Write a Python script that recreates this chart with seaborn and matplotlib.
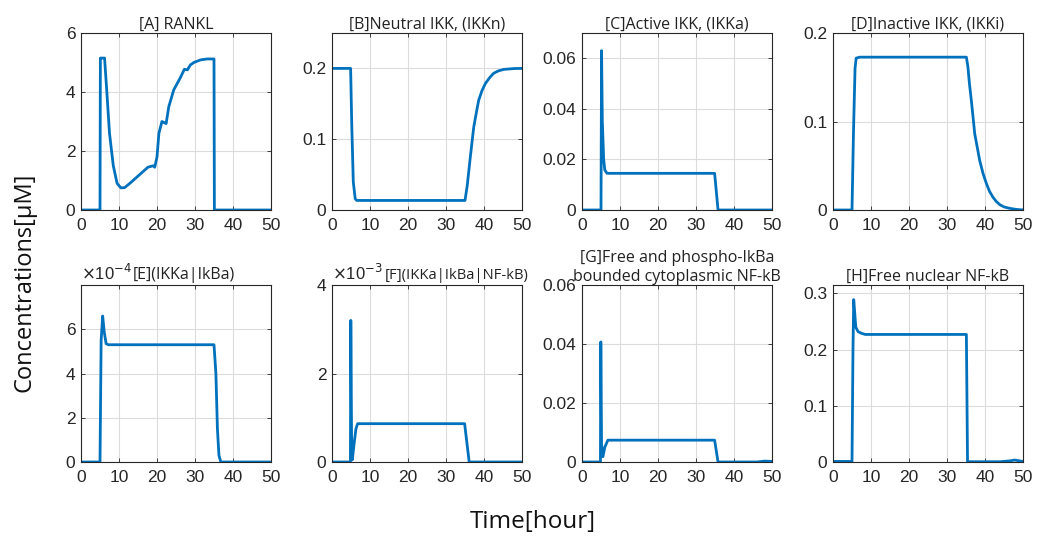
import numpy as np
import pandas as pd
import matplotlib
matplotlib.use("Agg")
import matplotlib.pyplot as plt
import seaborn as sns
from matplotlib.ticker import FuncFormatter

# ---------------- data ----------------
t_A = [0, 5.0, 5.1, 5.3, 6.2, 6.8, 7.5, 8.5, 9.5, 10.5, 11.5, 13, 15, 17, 17.6, 19, 19.4, 20, 20.5, 21.3, 22.4, 23.1, 24.4, 26.2, 27.2, 28, 28.8, 29.7, 31.5, 33.2, 35.0, 35.1, 50]
y_A = [0, 0, 5.15, 5.15, 5.15, 4.0, 2.6, 1.5, 0.9, 0.75, 0.76, 0.92, 1.15, 1.38, 1.45, 1.5, 1.45, 1.8, 2.6, 3.0, 2.93, 3.5, 4.07, 4.5, 4.77, 4.75, 4.92, 5.0, 5.09, 5.12, 5.12, 0, 0]

t_B = [0, 4.9, 5.2, 5.6, 6.1, 6.5, 35.0, 35.6, 36.4, 37.3, 38.0, 38.6, 39.5, 40.4, 41.5, 42.5, 43.8, 45.2, 48, 50]
y_B = [0.2, 0.2, 0.12, 0.04, 0.016, 0.0135, 0.0135, 0.035, 0.075, 0.117, 0.138, 0.155, 0.169, 0.179, 0.187, 0.193, 0.1965, 0.1986, 0.1998, 0.2]

t_C = [0, 5.0, 5.15, 5.35, 5.7, 6.0, 6.6, 34.9, 35.8, 50]
y_C = [0, 0, 0.063, 0.035, 0.02, 0.0158, 0.0145, 0.0145, 0, 0]

t_D = [0, 5.0, 5.4, 5.8, 6.1, 7.0, 35.1, 35.5, 35.9, 36.4, 36.9, 37.3, 38.0, 38.6, 39.5, 40.4, 41.2, 42.1, 43.0, 43.9, 45.0, 46.5, 48.0, 49.1, 50]
y_D = [0, 0, 0.09, 0.16, 0.1716, 0.1727, 0.1727, 0.162, 0.143, 0.124, 0.103, 0.086, 0.07, 0.056, 0.041, 0.0295, 0.021, 0.0144, 0.0095, 0.006, 0.0035, 0.0019, 0.0008, 0.0003, 0.0002]

t_E = [0, 5.0, 5.3, 5.7, 6.1, 6.6, 7.2, 35.0, 35.5, 35.9, 36.3, 36.8, 50]
y_E = [0, 0, 5.5e-4, 6.6e-4, 5.9e-4, 5.35e-4, 5.3e-4, 5.3e-4, 4.0e-4, 1.5e-4, 0.3e-4, 0, 0]

t_F = [0, 4.85, 4.95, 5.15, 5.35, 5.8, 6.3, 6.75, 34.9, 36.1, 50]
y_F = [0, 0, 3.2e-3, 0.6e-3, 0.05e-3, 0.4e-3, 0.75e-3, 0.866e-3, 0.866e-3, 0, 0]

t_G = [0, 4.85, 4.95, 5.15, 5.5, 6.0, 6.8, 34.9, 35.8, 46, 48, 50]
y_G = [0, 0, 0.0407, 0.006, 0.0018, 0.005, 0.0074, 0.0074, 0, 0, 0.0003, 0.0002]

t_H = [0, 5.0, 5.26, 5.45, 6.0, 6.6, 7.5, 8.5, 35.1, 35.4, 44, 46.5, 47.8, 49.1, 50]
y_H = [0.001, 0.001, 0.2, 0.289, 0.24, 0.232, 0.229, 0.227, 0.227, 0.0005, 0.0005, 0.002, 0.0035, 0.002, 0.001]

titles = ["[A] RANKL", "[B]Neutral IKK, (IKKn)", "[C]Active IKK, (IKKa)", "[D]Inactive IKK, (IKKi)",
          "[E](IKKa|IkBa)", "[F](IKKa|IkBa|NF-kB)",
          "[G]Free and phospho-IkBa\nbounded cytoplasmic NF-kB", "[H]Free nuclear NF-kB"]
ylims = [(0, 6), (0, 0.25), (0, 0.07), (0, 0.2), (0, 8e-4), (0, 4e-3), (0, 0.06), (0, 0.315)]
yticks = [[0, 2, 4, 6], [0, 0.1, 0.2], [0, 0.02, 0.04, 0.06], [0, 0.1, 0.2],
          [0, 2e-4, 4e-4, 6e-4], [0, 2e-3, 4e-3], [0, 0.02, 0.04, 0.06], [0, 0.1, 0.2, 0.3]]
scales = [1, 1, 1, 1, 1e-4, 1e-3, 1, 1]
exps = [None, None, None, None, "-4", "-3", None, None]
xticks = [0, 10, 20, 30, 40, 50]

series = [(t_A, y_A), (t_B, y_B), (t_C, y_C), (t_D, y_D),
          (t_E, y_E), (t_F, y_F), (t_G, y_G), (t_H, y_H)]

# ---------------- style ----------------
sns.set_style("ticks")
plt.rcParams['font.family'] = ['Liberation Sans', 'DejaVu Sans']
line_color = "#0072BD"
edge = "#262626"
title_font = ["Open Sans", "DejaVu Sans"]

fig = plt.figure(figsize=(10.37, 5.36), dpi=100)
W, H = 1037, 536
lefts = [81, 332, 582, 833]
tops = [33, 285]
aw, ah = 190, 177

for i, ((tx, ty), title) in enumerate(zip(series, titles)):
    r, c = divmod(i, 4)
    ax = fig.add_axes([lefts[c] / W, 1 - (tops[r] + ah) / H, aw / W, ah / H])
    df = pd.DataFrame({"t": tx, "v": ty})
    sns.lineplot(data=df, x="t", y="v", ax=ax, color=line_color, linewidth=2.0,
                 estimator=None, sort=False)
    ax.set_xlim(0, 50)
    ax.set_ylim(*ylims[i])
    ax.set_xticks(xticks)
    ax.set_yticks(yticks[i])
    s = scales[i]
    ax.yaxis.set_major_formatter(FuncFormatter(lambda v, p, s=s: f"{v / s:g}"))
    ax.set_xlabel("")
    ax.set_ylabel("")
    ax.grid(True, color="#dcdcdc", linewidth=0.8)
    ax.set_axisbelow(True)
    for sp in ax.spines.values():
        sp.set_color(edge)
        sp.set_linewidth(0.8)
        sp.set_visible(True)
    ax.tick_params(direction="in", length=3, width=0.6, colors=edge, labelsize=12.5,
                   top=True, right=True, labeltop=False, labelright=False, pad=4)
    ax.tick_params(axis="x", pad=6)
    if exps[i]:
        ax.text(0.0, 1.012, r"$\times$10$^{%s}$" % exps[i], transform=ax.transAxes,
                fontsize=12, color=edge, ha="left", va="bottom")
        fs = 11.5 if i == 4 else 10.6
        ax.text(0.275, 1.012, title, transform=ax.transAxes, fontsize=fs,
                family=title_font, color="#222222", ha="left", va="bottom")
    else:
        ax.set_title(title, fontsize=11.5, family=title_font, color="#222222",
                     pad=3, linespacing=1.25)

fig.text(533 / W, 1 - 522 / H, "Time[hour]", fontsize=17.5, ha="center", va="center",
         family=title_font, color="#111111")
fig.text(25 / W, 1 - 282 / H, "Concentrations[µM]", fontsize=17, ha="center", va="center",
         rotation=90, family=title_font, color="#111111")

fig.savefig("out.png", dpi=100)
